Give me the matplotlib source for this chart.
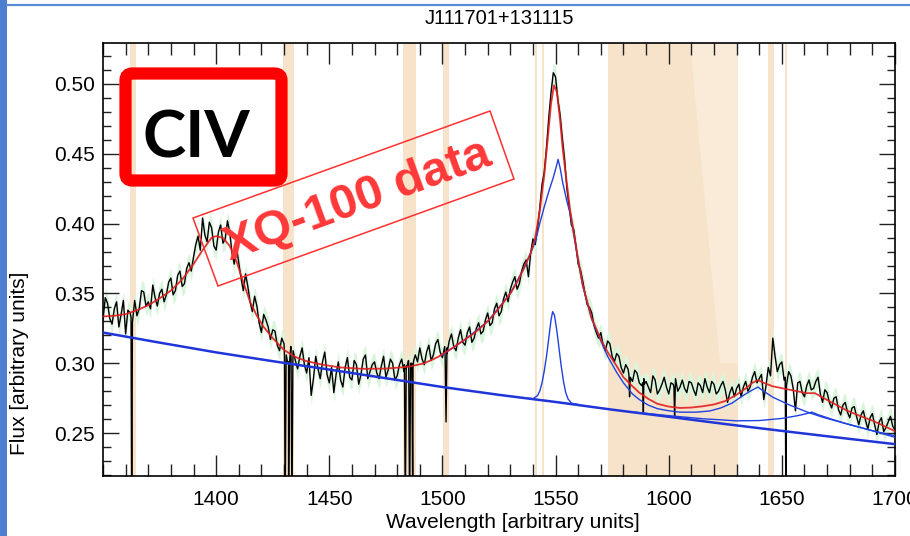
import numpy as np
import matplotlib
matplotlib.use("Agg")
import matplotlib.pyplot as plt
from matplotlib.ticker import MultipleLocator, FormatStrFormatter
from matplotlib.transforms import Affine2D
from matplotlib.patches import FancyBboxPatch, Polygon, Rectangle
from matplotlib.lines import Line2D

plt.rcParams['font.family'] = ['Liberation Sans', 'DejaVu Sans']

# observed spectrum: even-A samples 1350..1700 and odd-A samples 1351..1699
wave_even = np.arange(1350, 1701, 2)
flux_even = [
    0.331, 0.343, 0.328, 0.344, 0.335, 0.321, 0.336, 0.345, 0.339, 0.351,
    0.344, 0.356, 0.341, 0.353, 0.349, 0.361, 0.352, 0.366, 0.357, 0.372,
    0.376, 0.391, 0.404, 0.387, 0.397, 0.381, 0.399, 0.389, 0.394, 0.371,
    0.372, 0.352, 0.355, 0.337, 0.341, 0.322, 0.331, 0.317, 0.323, 0.309,
    0.314, 0.301, 0.309, 0.296, 0.311, 0.293, 0.277, 0.305, 0.289, 0.308,
    0.286, 0.279, 0.301, 0.283, 0.304, 0.288, 0.299, 0.292, 0.306, 0.294,
    0.301, 0.289, 0.305, 0.295, 0.300, 0.291, 0.303, 0.298, 0.300, 0.306,
    0.311, 0.299, 0.313, 0.306, 0.317, 0.304, 0.311, 0.321, 0.309, 0.324,
    0.313, 0.326, 0.318, 0.329, 0.323, 0.336, 0.329, 0.343, 0.337, 0.351,
    0.353, 0.362, 0.357, 0.371, 0.362, 0.389, 0.396, 0.428, 0.455, 0.494,
    0.505, 0.478, 0.446, 0.412, 0.396, 0.371, 0.359, 0.342, 0.336, 0.322,
    0.322, 0.309, 0.314, 0.301, 0.305, 0.293, 0.296, 0.287, 0.293, 0.284,
    0.287, 0.279, 0.288, 0.281, 0.290, 0.278, 0.285, 0.280, 0.288, 0.279,
    0.286, 0.277, 0.284, 0.289, 0.279, 0.285, 0.280, 0.287, 0.272, 0.283,
    0.282, 0.276, 0.287, 0.283, 0.294, 0.289, 0.274, 0.297, 0.318, 0.294,
    0.301, 0.283, 0.291, 0.266, 0.287, 0.276, 0.288, 0.282, 0.290, 0.272,
    0.279, 0.268, 0.276, 0.263, 0.272, 0.261, 0.269, 0.256, 0.266, 0.253,
    0.264, 0.249, 0.261, 0.254, 0.262, 0.252,
]
wave_odd = np.arange(1351, 1700, 2)
flux_odd = [
    0.347, 0.332, 0.339, 0.326, 0.345, 0.338, 0.329, 0.334, 0.352, 0.341,
    0.339, 0.347, 0.350, 0.344, 0.358, 0.349, 0.363, 0.355, 0.368, 0.366,
    0.385, 0.381, 0.392, 0.401, 0.384, 0.394, 0.386, 0.402, 0.379, 0.383,
    0.361, 0.364, 0.344, 0.348, 0.329, 0.335, 0.326, 0.324, 0.313, 0.318,
    0.306, 0.312, 0.302, 0.305, 0.299, 0.304, 0.289, 0.296, 0.301, 0.292,
    0.297, 0.292, 0.288, 0.297, 0.290, 0.302, 0.285, 0.303, 0.289, 0.299,
    0.293, 0.298, 0.290, 0.303, 0.288, 0.299, 0.294, 0.302, 0.297, 0.301,
    0.303, 0.308, 0.302, 0.314, 0.308, 0.312, 0.316, 0.312, 0.318, 0.315,
    0.322, 0.315, 0.325, 0.321, 0.331, 0.327, 0.339, 0.334, 0.346, 0.344,
    0.358, 0.353, 0.366, 0.374, 0.379, 0.385, 0.411, 0.437, 0.476, 0.508,
    0.489, 0.461, 0.425, 0.399, 0.384, 0.367, 0.350, 0.340, 0.327, 0.318,
    0.313, 0.316, 0.305, 0.307, 0.297, 0.299, 0.290, 0.295, 0.286, 0.289,
    0.283, 0.291, 0.278, 0.285, 0.283, 0.286, 0.289, 0.283, 0.282, 0.287,
    0.281, 0.286, 0.279, 0.283, 0.287, 0.278, 0.284, 0.281, 0.279, 0.276,
    0.285, 0.283, 0.280, 0.290, 0.286, 0.292, 0.284, 0.291, 0.305, 0.299,
    0.288, 0.294, 0.282, 0.286, 0.279, 0.284, 0.281, 0.287, 0.278, 0.281,
    0.272, 0.275, 0.267, 0.270, 0.265, 0.268, 0.262, 0.263, 0.259, 0.261,
    0.256, 0.258, 0.251, 0.258, 0.255,
]

# narrow absorption features (saturated ones drop below the plot floor)
abs_wave = [1362.4, 1362.7,
            1430.2, 1430.5, 1430.9, 1431.6, 1432.0, 1432.4, 1433.1, 1433.5, 1433.9,
            1483.2, 1483.6, 1484.0, 1485.1, 1485.5, 1485.9, 1486.5, 1486.9, 1487.3,
            1501.2, 1501.6, 1502.0,
            1582.4, 1582.7,
            1588.5, 1588.8, 1589.2,
            1602.3, 1602.6, 1602.9,
            1651.5, 1651.8, 1652.1]
abs_flux = [0.333, 0.19,
            0.305, 0.19, 0.300, 0.300, 0.19, 0.300, 0.305, 0.19, 0.300,
            0.299, 0.19, 0.296, 0.300, 0.19, 0.298, 0.300, 0.19, 0.302,
            0.305, 0.258, 0.307,
            0.292, 0.276,
            0.286, 0.264, 0.285,
            0.283, 0.262, 0.282,
            0.290, 0.19, 0.285]
flux_err = 0.007

# total model
fit_wave = [1350, 1355, 1360, 1365, 1370, 1375, 1380, 1385, 1390, 1394, 1398, 1400,
            1403, 1406, 1409, 1412, 1415, 1418, 1421, 1425, 1430, 1435, 1440, 1447,
            1455, 1465, 1475, 1485, 1492, 1498, 1504, 1509, 1514, 1518, 1522, 1526,
            1530, 1533, 1536, 1539, 1541, 1543, 1545, 1546.5, 1548, 1549.3, 1550.6,
            1552, 1553, 1554.2, 1556.4, 1559.5, 1562, 1566, 1570, 1573, 1577, 1580,
            1584, 1587, 1591, 1595, 1600, 1605, 1610, 1615, 1620, 1625, 1630, 1634,
            1637, 1639.5, 1642, 1646, 1653.6, 1661, 1664.6, 1668, 1672, 1679, 1685,
            1690, 1695, 1700]
fit_flux = [0.3335, 0.3340, 0.3352, 0.3380, 0.3415, 0.3465, 0.3520, 0.3600, 0.3710,
            0.3810, 0.3900, 0.3910, 0.3898, 0.3840, 0.3730, 0.3580, 0.3440, 0.3340,
            0.3260, 0.3180, 0.3095, 0.3045, 0.3015, 0.2990, 0.2970, 0.2960, 0.2962,
            0.2975, 0.3000, 0.3045, 0.3105, 0.3160, 0.3215, 0.3270, 0.3335, 0.3415,
            0.3500, 0.3580, 0.3680, 0.3790, 0.3900, 0.4090, 0.4350, 0.4600, 0.4860,
            0.4990, 0.4940, 0.4740, 0.4560, 0.4390, 0.4100, 0.3790, 0.3560, 0.3320,
            0.3170, 0.3080, 0.2980, 0.2900, 0.2835, 0.2790, 0.2745, 0.2710, 0.2690,
            0.2680, 0.2683, 0.2692, 0.2705, 0.2730, 0.2775, 0.2820, 0.2860, 0.2880,
            0.2860, 0.2835, 0.2810, 0.2786, 0.2786, 0.2755, 0.2720, 0.2660, 0.2620,
            0.2590, 0.2552, 0.2514]

# power-law continuum
cont_wave = [1350, 1375, 1400, 1425, 1450, 1475, 1500, 1525, 1550, 1575, 1600,
             1625, 1650, 1675, 1700]
cont_flux = [0.3220, 0.3148, 0.3078, 0.3015, 0.2955, 0.2893, 0.2830, 0.2774,
             0.2723, 0.2668, 0.2617, 0.2565, 0.2516, 0.2468, 0.2421]

# continuum + broad CIV + HeII
broad_wave = [1500, 1510, 1520, 1530, 1536, 1539, 1541, 1543, 1545, 1547, 1549,
              1550.5, 1551.1, 1552, 1553.2, 1555, 1556.5, 1559.5, 1562, 1566, 1570,
              1573, 1577, 1580, 1584, 1587, 1591, 1595, 1600, 1605, 1612, 1618,
              1623, 1628, 1632, 1636, 1639.4, 1642, 1646, 1653.6, 1661, 1668,
              1676, 1683, 1690, 1700]
broad_flux = [0.3060, 0.3170, 0.3300, 0.3500, 0.3680, 0.3790, 0.3870, 0.4000,
              0.4120, 0.4230, 0.4330, 0.4420, 0.4460, 0.4400, 0.4290, 0.4160,
              0.4070, 0.3780, 0.3555, 0.3315, 0.3160, 0.3050, 0.2935, 0.2860,
              0.2780, 0.2740, 0.2700, 0.2675, 0.2660, 0.2650, 0.2650, 0.2658,
              0.2680, 0.2715, 0.2760, 0.2800, 0.2830, 0.2800, 0.2757, 0.2700,
              0.2652, 0.2614, 0.2578, 0.2548, 0.2517, 0.2481]

# continuum + narrow CIV
narrow_wave = [1536, 1540, 1542, 1543, 1544, 1545, 1546, 1547, 1548, 1548.7, 1549.5,
               1550.5, 1551.5, 1552.5, 1553.5, 1554.5, 1555.5, 1557, 1560]
narrow_flux = [0.2753, 0.2746, 0.2768, 0.2800, 0.2860, 0.2945, 0.3050, 0.3180,
               0.3310, 0.3370, 0.3345, 0.3240, 0.3110, 0.2980, 0.2870, 0.2790,
               0.2745, 0.2715, 0.2705]

# continuum + 1663 component
comp_wave = [1585, 1600, 1615, 1630, 1640, 1650, 1657, 1661, 1663.3, 1666, 1672,
             1679, 1690, 1700]
comp_flux = [0.2650, 0.2625, 0.2603, 0.2588, 0.2590, 0.2605, 0.2625, 0.2640,
             0.2650, 0.2632, 0.2600, 0.2565, 0.2517, 0.2470]

# masked wavelength windows
mask_lo = [1361.9, 1429.6, 1482.7, 1500.4, 1540.7, 1543.8, 1573.0, 1643.8, 1651.3]
mask_hi = [1364.4, 1434.6, 1488.3, 1503.1, 1542.0, 1545.1, 1630.5, 1646.5, 1652.3]

# merge all samples into one spectrum
w_all = np.concatenate([wave_even, wave_odd, abs_wave])
f_all = np.concatenate([flux_even, flux_odd, abs_flux])
order = np.argsort(w_all, kind='stable')
w_all = w_all[order]
f_all = f_all[order]

W, H = 910, 536
fig = plt.figure(figsize=(W / 100, H / 100), dpi=100)
px = Affine2D().scale(1 / W, -1 / H).translate(0, 1) + fig.transFigure

ax = fig.add_axes([103 / W, 1 - 476 / H, (895 - 103) / W, (476 - 43) / H])

tan = '#f6e3c9'
for lo, hi in zip(mask_lo, mask_hi):
    ax.axvspan(lo, hi, color=tan, lw=0, zorder=0)
# lighter part of the wide window
ax.add_patch(Polygon([(1609.5, 0.53), (1630.5, 0.53), (1630.5, 0.30), (1622.5, 0.30)],
                     closed=True, fc='#f9ebd8', ec='none', zorder=0.5))

ax.fill_between(w_all, f_all - flux_err, f_all + flux_err, color='#d9f6dd', lw=0, zorder=1)
ax.plot(w_all, f_all, color='black', lw=1.0, zorder=2)

ax.plot(cont_wave, cont_flux, color='#1f35d8', lw=1.8, zorder=3)
ax.plot(comp_wave, comp_flux, color='#2040e0', lw=1.0, zorder=3)
ax.plot(narrow_wave, narrow_flux, color='#2040e0', lw=1.0, zorder=3)
ax.plot(broad_wave, broad_flux, color='#2040e0', lw=1.0, zorder=3)
ax.plot(fit_wave, fit_flux, color='#e01e1e', lw=1.3, alpha=0.9, zorder=4)

ax.set_xlim(1350, 1700)
ax.set_ylim(0.2193, 0.5293)
ax.set_xticks(np.arange(1400, 1701, 50))
ax.xaxis.set_minor_locator(MultipleLocator(10))
ax.set_yticks([0.25, 0.30, 0.35, 0.40, 0.45, 0.50])
ax.yaxis.set_minor_locator(MultipleLocator(0.01))
ax.yaxis.set_major_formatter(FormatStrFormatter('%.2f'))
ax.tick_params(axis='both', which='both', direction='in', top=True, right=True,
               width=1.0, colors='#222222', labelsize=15, labelcolor='black')
ax.tick_params(axis='x', which='major', length=15, pad=10)
ax.tick_params(axis='x', which='minor', length=8.5)
ax.tick_params(axis='y', which='major', length=11.5, pad=6)
ax.tick_params(axis='y', which='minor', length=6)
for s in ax.spines.values():
    s.set_linewidth(1.2)

fig.text(499, 19, 'J111701+131115', transform=px, ha='center', va='center', fontsize=14.5)
fig.text(513, 522, 'Wavelength [arbitrary units]', transform=px, ha='center',
         va='center', fontsize=15)
fig.text(20, 363, 'Flux [arbitrary units]', transform=px, ha='center', va='center',
         rotation=90, fontsize=15)

# slide decoration
fig.add_artist(Rectangle((0, 0), 7, H, transform=px, fc='#4d7fcf', ec='none'))
fig.add_artist(Line2D([7, W], [5, 5], transform=px, color='#5b8bd6', lw=1.6))

# CIV label box
fig.add_artist(FancyBboxPatch((125.5, 73.5), 156, 107, boxstyle='round,pad=0,rounding_size=7',
                              transform=px, fc='none', ec='#ff0000', lw=8.8))
fig.text(196, 157, 'CIV', transform=px, ha='center', va='baseline', fontsize=47,
         fontweight='bold', family=['Lato', 'DejaVu Sans'], color='black')

# data source stamp
fig.add_artist(Polygon([(193, 218), (490, 111), (514, 179), (218, 286)], closed=True,
                       transform=px, fill=False, ec='#ff3030', lw=1.1))
fig.text(362, 213, 'XQ-100 data', transform=px, ha='center', va='baseline',
         rotation=20, rotation_mode='anchor', fontsize=35, fontweight='bold',
         family=['Liberation Sans', 'DejaVu Sans'], color='#ff3838')

fig.savefig('out.png', dpi=100)
